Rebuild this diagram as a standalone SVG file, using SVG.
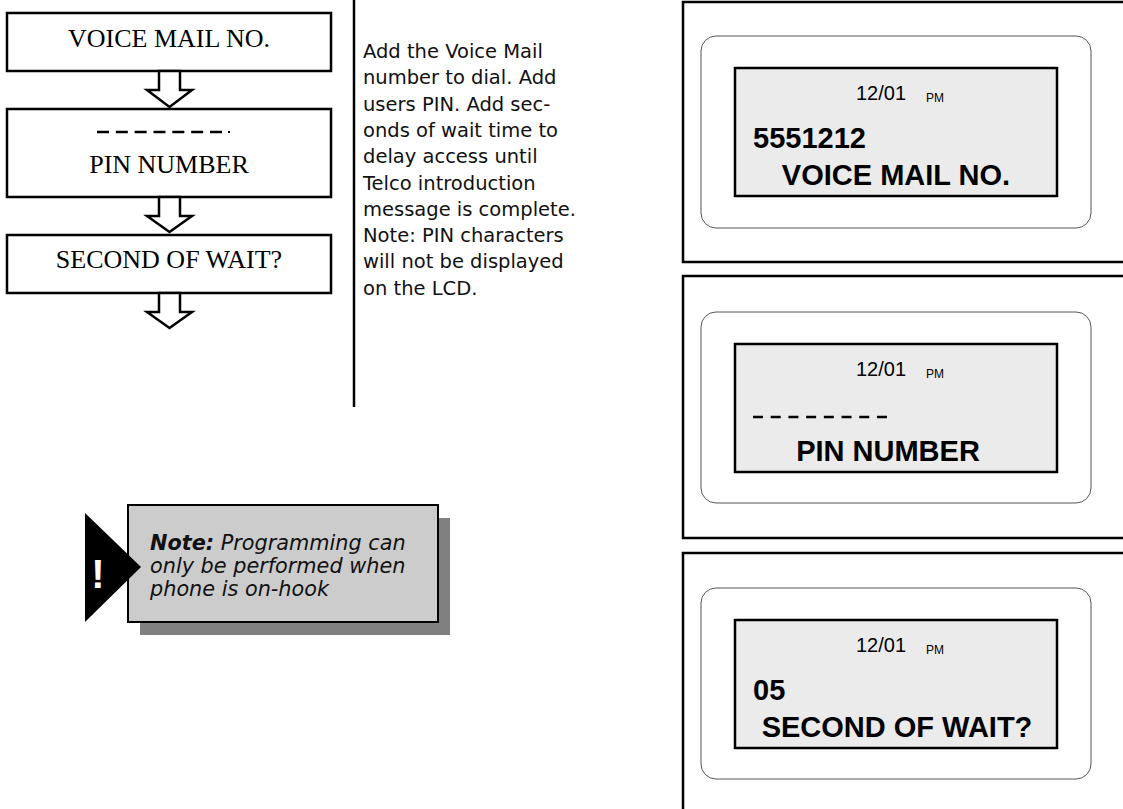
<svg xmlns="http://www.w3.org/2000/svg" width="1123" height="809" viewBox="0 0 1123 809">
<defs>
<style>
.fbox{fill:#fff;stroke:#000;stroke-width:2.5}
.ftxt{font-family:"Liberation Serif","Times New Roman",serif;font-size:26px;fill:#000;text-anchor:middle}
.arrow{fill:#fff;stroke:#000;stroke-width:2.5;stroke-linejoin:miter}
.desc{font-family:"DejaVu Sans",Verdana,sans-serif;font-size:19.5px;fill:#111}
.rule{stroke:#000;stroke-width:2.5;fill:none}
.phone{fill:#fff;stroke:#555;stroke-width:1}
.lcd{fill:#ebebeb;stroke:#000;stroke-width:2.5}
.date{font-family:"Liberation Sans",Arial,sans-serif;font-size:20px;fill:#000}
.pm{font-family:"Liberation Sans",Arial,sans-serif;font-size:12px;fill:#000}
.big{font-family:"Liberation Sans",Arial,sans-serif;font-size:29px;font-weight:bold;fill:#000}
.note{font-family:"DejaVu Sans",Verdana,sans-serif;font-size:20.8px;font-style:italic;fill:#111}
</style>
</defs>

<g id="flow-voice-mail">
<rect class="fbox" x="7" y="13" width="324" height="58"/>
<text class="ftxt" x="169" y="47">VOICE MAIL NO.</text>
</g>
<g id="flow-pin">
<rect class="fbox" x="7" y="109" width="324" height="88"/>
<line x1="97" y1="132" x2="222" y2="132" stroke="#000" stroke-width="2.5" stroke-dasharray="12 6.83"/>
<rect x="228" y="131" width="2" height="2" fill="#000"/>
<text class="ftxt" x="169" y="173">PIN NUMBER</text>
</g>
<g id="flow-wait">
<rect class="fbox" x="7" y="235" width="324" height="58"/>
<text class="ftxt" x="169" y="268">SECOND OF WAIT?</text>
</g>

<g id="connectors">
<polygon class="arrow" points="159,71 180,71 180,90 192,90 169.5,107 147,90 159,90"/>
<polygon class="arrow" points="159,197 180,197 180,216 192,216 169.5,232 147,216 159,216"/>
<polygon class="arrow" points="159,293 180,293 180,312 192,312 169.5,328 147,312 159,312"/>
</g>

<line class="rule" x1="354" y1="0" x2="354" y2="407"/>

<g id="description">
<text class="desc" x="363" y="58">Add the Voice Mail</text>
<text class="desc" x="363" y="84.3">number to dial. Add</text>
<text class="desc" x="363" y="110.6">users PIN. Add sec-</text>
<text class="desc" x="363" y="136.9">onds of wait time to</text>
<text class="desc" x="363" y="163.2">delay access until</text>
<text class="desc" x="363" y="189.5">Telco introduction</text>
<text class="desc" x="363" y="215.8">message is complete.</text>
<text class="desc" x="363" y="242.1">Note: PIN characters</text>
<text class="desc" x="363" y="268.4">will not be displayed</text>
<text class="desc" x="363" y="294.7">on the LCD.</text>
</g>

<g id="note">
<rect x="140" y="518" width="310" height="117" fill="#808080"/>
<rect x="128" y="505" width="310" height="117" fill="#cccccc" stroke="#000" stroke-width="2"/>
<polygon points="85,513 141,567 85,622" fill="#000"/>
<text x="98" y="588" font-family="Liberation Sans,Arial,sans-serif" font-size="40" font-weight="bold" fill="#fff" text-anchor="middle">!</text>
<text class="note" x="150" y="550"><tspan font-weight="bold">Note:</tspan> Programming can</text>
<text class="note" x="150" y="573">only be performed when</text>
<text class="note" x="150" y="596">phone is on-hook</text>
</g>

<g id="panel-1">
<path class="rule" d="M1123,2 H683 V262 H1123"/>
<rect class="phone" x="701" y="36" width="390" height="192" rx="15"/>
<rect class="lcd" x="735" y="68" width="322" height="128"/>
<text class="date" x="856" y="100">12/01</text>
<text class="pm" x="926" y="102">PM</text>
<text class="big" x="753" y="148">5551212</text>
<text class="big" x="896" y="185" text-anchor="middle">VOICE MAIL NO.</text>
</g>

<g id="panel-2">
<path class="rule" d="M1123,276 H683 V538 H1123"/>
<rect class="phone" x="701" y="312" width="390" height="191" rx="15"/>
<rect class="lcd" x="735" y="344" width="322" height="128"/>
<text class="date" x="856" y="376">12/01</text>
<text class="pm" x="926" y="378">PM</text>
<line x1="753" y1="417" x2="889" y2="417" stroke="#000" stroke-width="2.5" stroke-dasharray="10 7.71"/>
<text class="big" x="888" y="461" text-anchor="middle">PIN NUMBER</text>
</g>

<g id="panel-3">
<path class="rule" d="M1123,553 H683 V809"/>
<rect class="phone" x="701" y="588" width="390" height="191" rx="15"/>
<rect class="lcd" x="735" y="620" width="322" height="128"/>
<text class="date" x="856" y="652">12/01</text>
<text class="pm" x="926" y="654">PM</text>
<text class="big" x="753" y="700">05</text>
<text class="big" x="897" y="737" text-anchor="middle">SECOND OF WAIT?</text>
</g>
</svg>
